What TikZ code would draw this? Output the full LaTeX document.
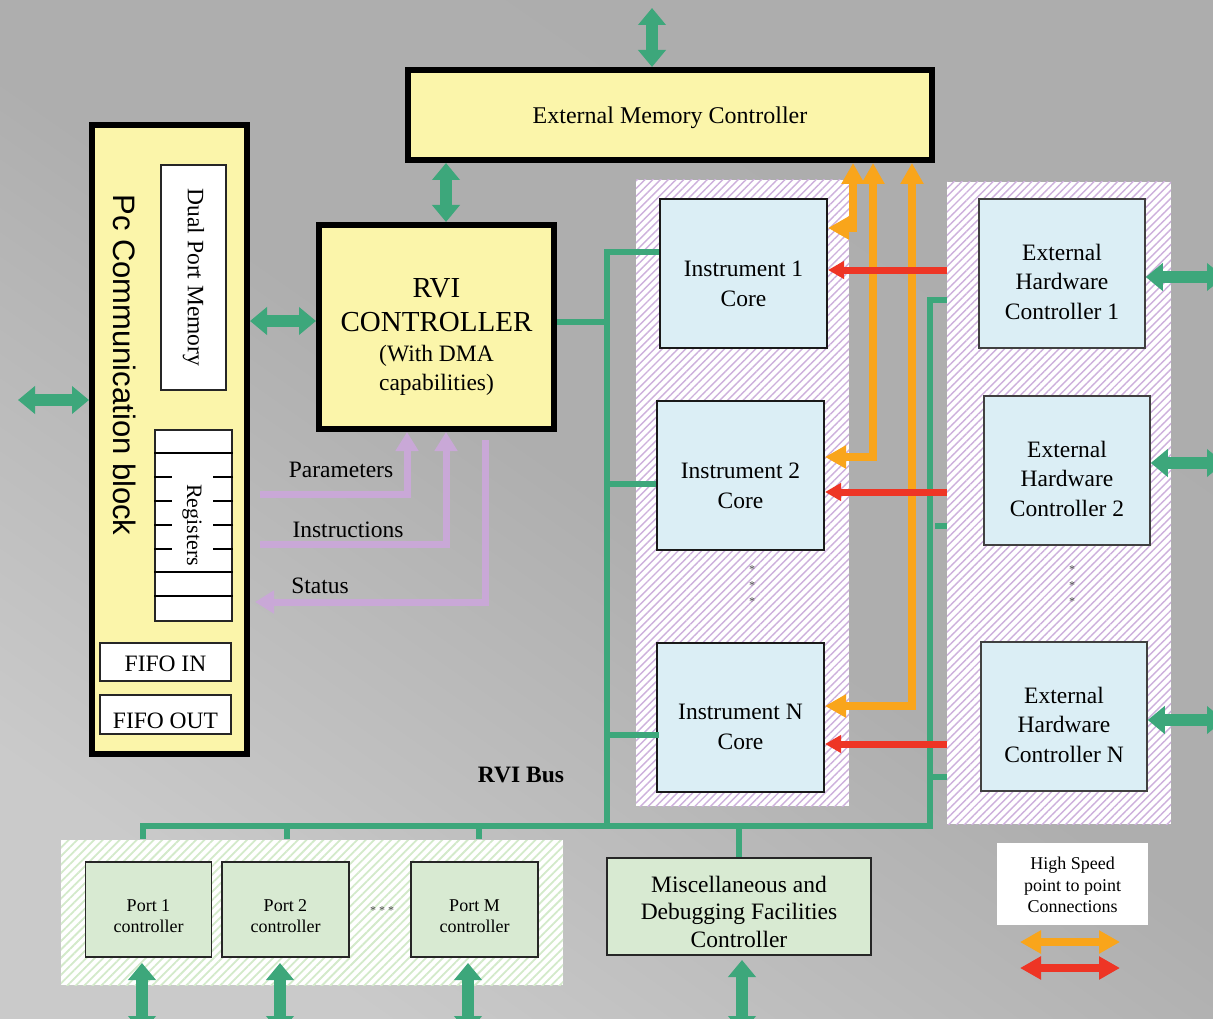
\documentclass[tikz,border=0pt]{standalone}
\usepackage{fontspec}
\setmainfont{Liberation Serif}
\newfontfamily\pcfont{Liberation Sans}
\usetikzlibrary{arrows.meta,patterns.meta}

\definecolor{bgdark}{HTML}{ADADAD}
\definecolor{bglight}{HTML}{CACACA}
\definecolor{boxyellow}{HTML}{FBF5AA}
\definecolor{boxblue}{HTML}{DBEEF5}
\definecolor{boxgreen}{HTML}{D8EAD2}
\definecolor{busgreen}{HTML}{3DA77B}
\definecolor{hsorange}{HTML}{F9A51B}
\definecolor{hsred}{HTML}{EE3525}
\definecolor{ctrlpurple}{HTML}{C9A8D7}
\definecolor{hatchpurple}{HTML}{CDB0DC}
\definecolor{hatchgreen}{HTML}{D3EACA}

\newcommand{\fsize}[2]{\fontsize{#1}{#2}\selectfont}
\newcommand{\shiftedtext}[2]{\raisebox{#1}[\height][\depth]{\begin{tabular}{@{}c@{}}#2\end{tabular}}}

\begin{document}
\begin{tikzpicture}[x=1pt,y=-1pt,
  yellowbox/.style={draw=black,line width=6pt,fill=boxyellow,inner sep=0pt,align=center},
  whitebox/.style={draw=black!85,line width=2pt,fill=white,inner sep=0pt,font=\fsize{23.5}{28}},
  corebox/.style={draw=black!90,line width=2pt,fill=boxblue,inner sep=0pt,
    minimum width=167pt,minimum height=149pt,font=\fsize{23.5}{30}},
  ehcbox/.style={draw=black!75,line width=1.5pt,fill=boxblue,inner sep=0pt,
    minimum width=166pt,minimum height=149pt,font=\fsize{23.5}{29.5}},
  portbox/.style={draw=black!85,line width=1.5pt,fill=boxgreen,inner sep=0pt,
    minimum width=126pt,minimum height=95pt,font=\fsize{18}{21}},
  hatchpanel/.style={preaction={fill=white},inner sep=0pt,
    pattern={Lines[angle=45,distance=5.5pt,line width=1.4pt]},pattern color=hatchpurple},
  bus/.style={draw=busgreen,line width=6pt},
  bigarrow/.style={draw=busgreen,line width=12pt,
    {Triangle[width=27pt,length=17pt]}-{Triangle[width=27pt,length=17pt]}},
  ctrlarrow/.style={draw=ctrlpurple,line width=7pt,-{Triangle[width=22pt,length=19pt]}},
  hsarrow/.style={draw=hsorange,line width=8pt,
    {Triangle[width=22pt,length=21pt]}-{Triangle[width=22pt,length=21pt]}},
  redarrow/.style={draw=hsred,line width=7pt,-{Triangle[width=17pt,length=16pt]}},
  label/.style={font=\fsize{23.5}{28}},
  stars/.style={font=\fsize{12}{16},text=black!70,align=center,inner sep=0pt}]

  \useasboundingbox (0,0) rectangle (1213,1019);
  \shade[top color=bgdark,bottom color=bglight,middle color=bgdark!95!bglight,shading angle=-35]
    (0,0) rectangle (1213,1019);

  % hatched groups
  \node[hatchpanel,minimum width=213pt,minimum height=626pt] (instpanel) at (742.5,493) {};
  \node[hatchpanel,minimum width=224pt,minimum height=642pt] (ehcpanel) at (1059,503) {};
  \node[hatchpanel,pattern color=hatchgreen,pattern={Lines[angle=45,distance=6pt,line width=1.8pt]},
    minimum width=502pt,minimum height=145pt] (portpanel) at (312,912.5) {};

  % controllers
  \node[yellowbox,minimum width=524pt,minimum height=90pt,font=\fsize{24}{28}] (emc) at (670,115)
    {\raisebox{-3pt}[\height][\depth]{External Memory Controller}};
  \node[yellowbox,minimum width=235pt,minimum height=204pt,font=\fsize{23.5}{30}] (rvi) at (436.5,327)
    {\shiftedtext{-10.5pt}{\fsize{29}{34}RVI\\[4pt]\fsize{29}{34}CONTROLLER\\(With DMA\\[-1pt]capabilities)}};

  % pc block
  \node[yellowbox,minimum width=155pt,minimum height=629pt] (pc) at (169.5,439.5) {};
  \node[rotate=-90,font=\pcfont\fsize{31}{36}] (pctxt) at (125,365) {Pc Communication block};
  \node[whitebox,rotate=-90,minimum width=225pt,minimum height=65pt] (dpm) at (193.5,277.5)
    {Dual Port Memory};
  \node[whitebox,minimum width=77pt,minimum height=191pt] (regs) at (193.5,525.5) {};
  \foreach \i in {1,6,7}
    \draw[line width=2pt] ([yshift=-\i*23.9pt]regs.north west) -- ([yshift=-\i*23.9pt]regs.north east);
  \foreach \i in {2,...,5} {
    \draw[line width=2pt] ([yshift=-\i*23.9pt]regs.north west) -- ++(18,0);
    \draw[line width=2pt] ([yshift=-\i*23.9pt]regs.north east) -- ++(-20,0);
  }
  \node[rotate=-90,font=\fsize{22}{26}] (regstxt) at (192,525) {Registers};
  \node[whitebox,minimum width=131pt,minimum height=38pt] (fifoin) at (165.5,662)
    {\raisebox{-2pt}[\height][\depth]{FIFO IN}};
  \node[whitebox,minimum width=131pt,minimum height=39pt] (fifoout) at (165.5,714.5)
    {\raisebox{-6pt}[\height][\depth]{FIFO OUT}};

  % instrument cores
  \node[corebox] (inst1) at (743.5,273.5) {\shiftedtext{-12pt}{Instrument 1\\Core}};
  \node[corebox] (inst2) at (740.5,475.5) {\shiftedtext{-11.5pt}{Instrument 2\\Core}};
  \node[corebox] (instN) at (740.5,717) {\shiftedtext{-11pt}{Instrument N\\Core}};
  \node[stars] (instdots) at (752,586) {*\\*\\*};

  % external hardware controllers
  \node[ehcbox] (ehc1) at (1062,273.5) {\shiftedtext{-10.5pt}{External\\Hardware\\Controller 1}};
  \node[ehcbox] (ehc2) at (1067,470.5) {\shiftedtext{-10.5pt}{External\\Hardware\\Controller 2}};
  \node[ehcbox] (ehcN) at (1064,716.5) {\shiftedtext{-10.5pt}{External\\Hardware\\Controller N}};
  \node[stars] (ehcdots) at (1072,586) {*\\*\\*};

  % ports and misc
  \node[portbox] (port1) at (148.5,909.5) {\shiftedtext{-8.5pt}{Port 1\\controller}};
  \node[portbox,minimum width=127pt] (port2) at (285.5,909.5) {\shiftedtext{-8.5pt}{Port 2\\controller}};
  \node[portbox,minimum width=127pt] (portM) at (474.5,909.5) {\shiftedtext{-8.5pt}{Port M\\controller}};
  \node[stars] (portdots) at (382,911) {* * *};
  \node[portbox,minimum width=264pt,minimum height=97pt,font=\fsize{23.5}{27.5}] (misc) at (739,906.5)
    {\shiftedtext{-7.5pt}{Miscellaneous and\\Debugging Facilities\\Controller}};

  % legend
  \node[fill=white,minimum width=151pt,minimum height=82pt,font=\fsize{18}{21.5}] (legend)
    at (1072.5,884) {\shiftedtext{-3pt}{High Speed\\point to point\\Connections}};
  \draw[hsarrow] (1020,942) -- (1120,942);
  \draw[hsarrow,draw=hsred] (1020,968) -- (1120,968);

  % rvi bus
  \coordinate (busnw) at (607,252);
  \coordinate (bussw) at (607,826);
  \coordinate (busse) at (930,826);
  \coordinate (busne) at (930,300);
  \draw[bus] ([yshift=5pt]rvi.east) -- ([yshift=5pt]rvi.east -| busnw);
  \draw[bus]
    (busnw -| inst1.west)
    --
    (busnw)
    --
    (bussw);
  \draw[bus]
    (143,0 |- portpanel.north)
    --
    (143,826)
    --
    (busse)
    --
    (busne)
    --
    (busne -| ehcpanel.west);
  \foreach \bx in {287,479}
    \draw[bus] (\bx,826) -- (\bx,0 |- portpanel.north);
  \draw[bus] (misc.north |- bussw) -- (misc.north);
  \draw[bus] (busnw |- 0,484) -- (inst2.west |- 0,484);
  \draw[bus] (busnw |- 0,735) -- ([xshift=3pt]instN.west |- 0,735);
  \draw[bus] (935,526) -- (ehcpanel.west |- 0,526);
  \draw[bus] (busne |- 0,777) -- (ehcpanel.west |- 0,777);
  \node[font=\bfseries\fsize{23.5}{28}] (busname) at (521,775) {RVI Bus};

  % high speed links
  \draw[hsarrow]
    (853,0 |- emc.south)
    --
    (853,228)
    --
    (inst1.east |- 0,228);
  \draw[hsarrow]
    (873,0 |- emc.south)
    --
    (873,457)
    --
    (inst2.east |- 0,457);
  \draw[hsarrow]
    (912,0 |- emc.south)
    --
    (912,706)
    --
    (instN.east |- 0,706);
  \draw[redarrow] (ehcpanel.west |- 0,270) -- (inst1.east |- 0,270);
  \draw[redarrow] (ehcpanel.west |- 0,492) -- (inst2.east |- 0,492);
  \draw[redarrow] (ehcpanel.west |- 0,744) -- (instN.east |- 0,744);

  % control signals
  \draw[ctrlarrow]
    (260,494)
    --
    (407,494)
    --
    (407,0 |- rvi.south);
  \draw[ctrlarrow]
    (260,544)
    --
    (446,544)
    --
    (446,0 |- rvi.south);
  \draw[ctrlarrow]
    (485,440)
    --
    (485,602)
    --
    ([xshift=5pt]pc.east |- 0,602);
  \node[label] (paramtxt) at (341,470) {Parameters};
  \node[label] (instrtxt) at (348,530) {Instructions};
  \node[label] (statustxt) at (320,586) {Status};

  % external links
  \draw[bigarrow] (652,0 |- emc.north) -- (652,8);
  \draw[bigarrow] (446,0 |- emc.south) -- (446,0 |- rvi.north);
  \draw[bigarrow] (18,400) -- (pc.west |- 0,400);
  \draw[bigarrow] (pc.east |- 0,321) -- (rvi.west |- 0,321);
  \draw[bigarrow] (ehc1.east |- 0,277) -- (1224,277);
  \draw[bigarrow] (ehc2.east |- 0,463) -- (1224,463);
  \draw[bigarrow] (ehcN.east |- 0,720) -- (1224,720);
  \foreach \px in {142,280,468}
    \draw[bigarrow] (\px,963) -- (\px,1033);
  \draw[bigarrow] (742,960) -- (742,1033);
\end{tikzpicture}
\end{document}
